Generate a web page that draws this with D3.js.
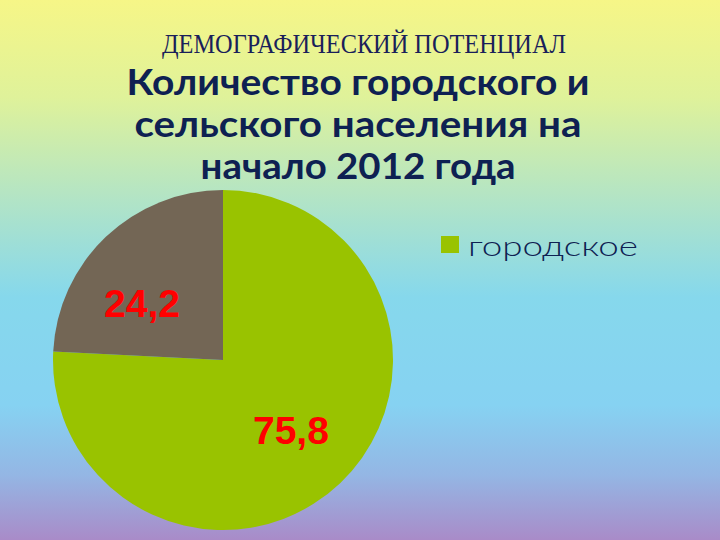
<!DOCTYPE html>
<html>
<head>
<meta charset="utf-8">
<script src="https://cdn.jsdelivr.net/npm/d3@7"></script>
<style>
  html, body { margin: 0; padding: 0; }
  svg { display: block; }
</style>
</head>
<body>
<svg id="chart" width="720" height="540"></svg>
<script>
const categories = ["городское", "сельское"];
const values = [75.8, 24.2];
const valueLabels = ["75,8", "24,2"];
const legendItems = ["городское"];
const subtitle = "ДЕМОГРАФИЧЕСКИЙ ПОТЕНЦИАЛ";
const titleLines = ["Количество городского и", "сельского населения на", "начало 2012 года"];

const W = 720, H = 540;
const svg = d3.select("#chart");

// background gradient
const defs = svg.append("defs");
const grad = defs.append("linearGradient").attr("id", "bg").attr("x1", 0).attr("y1", 0).attr("x2", 0).attr("y2", 1);
[[0, "#f6f687"], [0.18, "#dff29a"], [0.37, "#b2e4c6"], [0.55, "#86d8ec"], [0.75, "#86d2f2"], [0.88, "#94b6e4"], [1, "#a98bc8"]]
  .forEach(([o, c]) => grad.append("stop").attr("offset", o).attr("stop-color", c));
svg.append("rect").attr("width", W).attr("height", H).attr("fill", "url(#bg)");

// titles
svg.append("text")
  .attr("x", 364).attr("y", 53)
  .attr("text-anchor", "middle")
  .attr("font-family", "'Liberation Serif', 'Times New Roman', serif")
  .attr("font-size", 27)
  .attr("fill", "#1a1f5a")
  .attr("textLength", 404).attr("lengthAdjust", "spacingAndGlyphs")
  .text(subtitle);

const titleWidths = [463, 447, 315];
const titleY = [95, 137, 179];
svg.selectAll("text.title").data(titleLines).enter().append("text")
  .attr("class", "title")
  .attr("x", 358).attr("y", (d, i) => titleY[i])
  .attr("text-anchor", "middle")
  .attr("font-family", "Lato, 'DejaVu Sans', sans-serif")
  .attr("font-weight", 700)
  .attr("font-size", 36)
  .attr("fill", "#0e2152")
  .attr("textLength", (d, i) => titleWidths[i]).attr("lengthAdjust", "spacingAndGlyphs")
  .text(d => d);

// pie
const cx = 223, cy = 360, R = 170;
const color = d3.scaleOrdinal().domain(categories).range(["#99c300", "#736655"]);
const pie = d3.pie().sort(null).value(d => d.value);
const data = categories.map((c, i) => ({ name: c, value: values[i], label: valueLabels[i] }));
const arcs = pie(data);
const arc = d3.arc().innerRadius(0).outerRadius(R);
const labelArc = d3.arc().innerRadius(100).outerRadius(100);

const g = svg.append("g").attr("transform", `translate(${cx},${cy})`);
g.selectAll("path").data(arcs).enter().append("path")
  .attr("d", arc)
  .attr("fill", d => color(d.data.name));

const labelShift = { "городское": [-1, -2], "сельское": [-12, 16] };
g.selectAll("text.val").data(arcs).enter().append("text")
  .attr("class", "val")
  .attr("transform", d => {
    const c = labelArc.centroid(d);
    const s = labelShift[d.data.name];
    return `translate(${c[0] + s[0]},${c[1] + s[1]})`;
  })
  .attr("text-anchor", "middle")
  .attr("dy", "0.36em")
  .attr("font-family", "'Liberation Sans', Arial, sans-serif")
  .attr("font-weight", 700)
  .attr("font-size", 38)
  .attr("fill", "#ff0000")
  .attr("textLength", 76).attr("lengthAdjust", "spacingAndGlyphs")
  .text(d => d.data.label);

// legend
const lg = svg.append("g").attr("transform", "translate(441,236)");
const li = lg.selectAll("g").data(legendItems).enter().append("g");
li.append("rect").attr("width", 18).attr("height", 17).attr("fill", d => color(d));
li.append("text")
  .attr("x", 27).attr("y", 20)
  .attr("font-family", "Lato, 'DejaVu Sans', sans-serif")
  .attr("font-weight", 300)
  .attr("font-size", 27)
  .attr("fill", "#0e2152")
  .attr("textLength", 170).attr("lengthAdjust", "spacingAndGlyphs")
  .text(d => d);
</script>
</body>
</html>
